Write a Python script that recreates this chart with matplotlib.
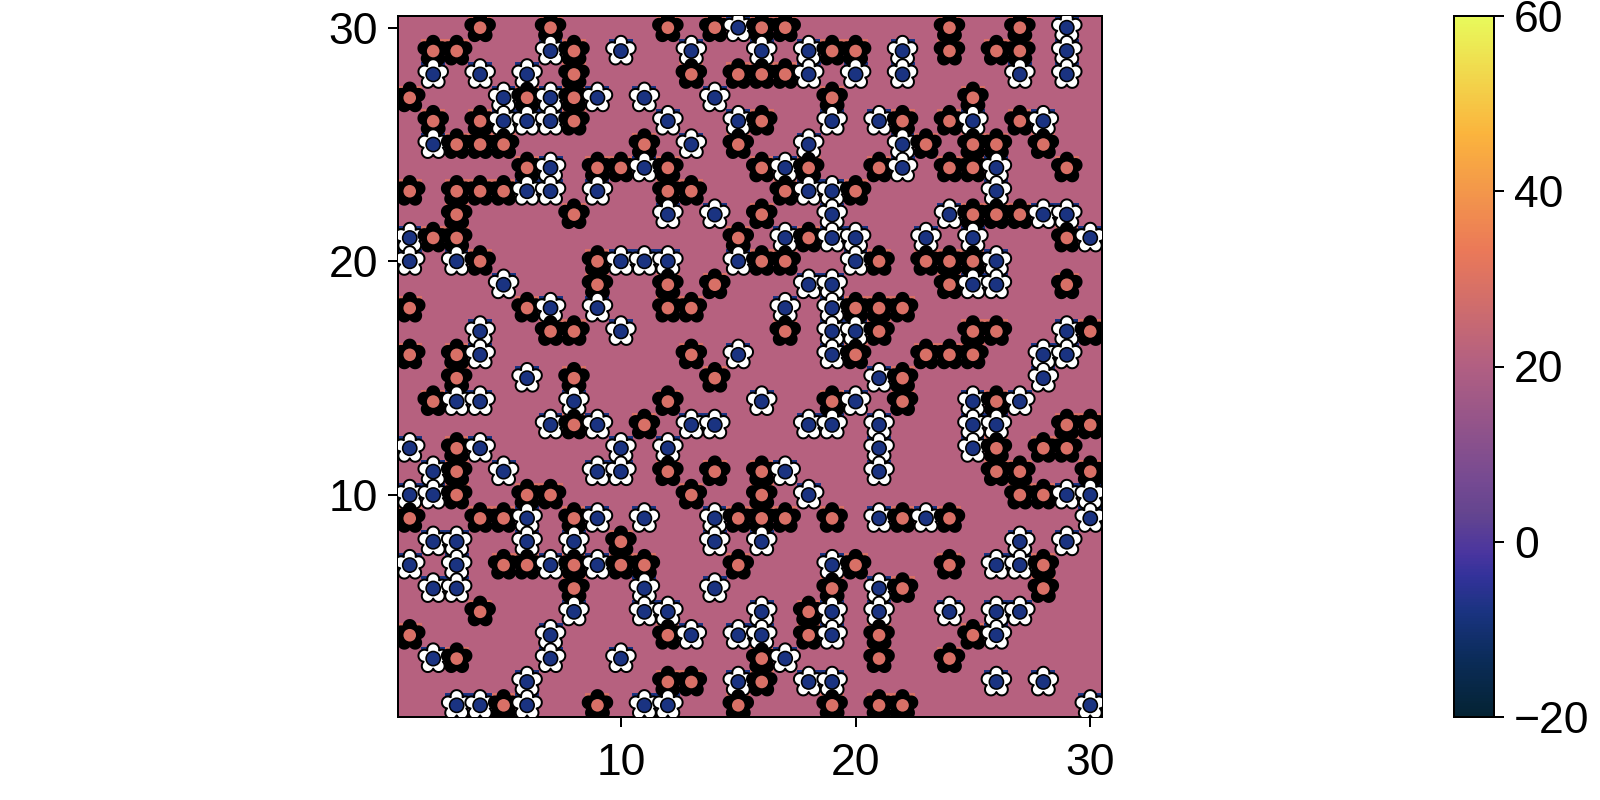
import numpy as np
import matplotlib
matplotlib.use("Agg")
import matplotlib.pyplot as plt
from matplotlib.colors import LinearSegmentedColormap
from matplotlib.path import Path

plt.rcParams['font.family'] = ['Liberation Sans', 'DejaVu Sans']

# --- data: occupied grid cells, one dict entry per row (y -> list of x) ---
white_rows = {
    30: [15, 29], 29: [7, 10, 13, 16, 18, 22, 29], 28: [2, 4, 6, 18, 20, 22, 27, 29],
    27: [5, 7, 9, 11, 14], 26: [5, 6, 7, 12, 15, 19, 21, 25, 28], 25: [2, 13, 18, 22],
    24: [7, 11, 17, 22, 26], 23: [6, 7, 9, 18, 19, 26], 22: [12, 14, 19, 24, 28, 29],
    21: [1, 17, 19, 20, 23, 25, 30], 20: [1, 3, 10, 11, 12, 15, 20, 26], 19: [5, 18, 19, 25, 26],
    18: [7, 9, 17, 19], 17: [4, 10, 19, 20, 29], 16: [4, 15, 19, 28, 29], 15: [6, 21, 28],
    14: [3, 4, 8, 16, 20, 25, 27], 13: [7, 9, 13, 14, 18, 19, 21, 25, 26], 12: [1, 4, 10, 12, 21, 25],
    11: [2, 5, 9, 10, 17, 21], 10: [1, 2, 18, 29, 30], 9: [6, 9, 11, 14, 21, 23, 30],
    8: [2, 3, 6, 8, 14, 16, 27, 29], 7: [1, 3, 7, 9, 19, 26, 27], 6: [2, 3, 11, 14, 21],
    5: [8, 11, 12, 16, 19, 21, 24, 26, 27], 4: [7, 13, 15, 16, 19, 26], 3: [2, 7, 10, 17],
    2: [6, 15, 18, 19, 26, 28], 1: [3, 4, 6, 11, 12, 30],
}
black_rows = {
    30: [4, 7, 12, 14, 16, 17, 24, 27], 29: [2, 3, 8, 19, 20, 24, 26, 27], 28: [8, 13, 15, 16, 17],
    27: [1, 6, 8, 19, 25], 26: [2, 4, 8, 16, 22, 24, 27], 25: [3, 4, 5, 11, 15, 23, 25, 26, 28],
    24: [6, 9, 10, 12, 16, 18, 21, 24, 25, 29], 23: [1, 3, 4, 5, 12, 13, 17, 20], 22: [3, 8, 16, 25, 26, 27],
    21: [2, 3, 15, 18, 29], 20: [4, 9, 16, 17, 21, 23, 24, 25], 19: [9, 12, 14, 24, 29],
    18: [1, 6, 12, 13, 20, 21, 22], 17: [7, 8, 17, 21, 25, 26, 30], 16: [1, 3, 13, 20, 23, 24, 25],
    15: [3, 8, 14, 22], 14: [2, 12, 19, 22, 26], 13: [8, 11, 29, 30], 12: [3, 26, 28, 29],
    11: [3, 12, 14, 16, 26, 27, 30], 10: [3, 6, 7, 13, 16, 27, 28], 9: [1, 4, 5, 8, 15, 16, 17, 19, 22, 24],
    8: [10], 7: [5, 6, 8, 10, 11, 15, 20, 24, 28], 6: [8, 19, 22, 28], 5: [4, 18],
    4: [1, 12, 18, 21, 25], 3: [3, 16, 21, 24], 2: [12, 13, 16], 1: [5, 9, 15, 19, 21, 22],
}
field_value = 21.0
white_value = -8.0
black_value = 29.0
x_ticks = [10, 20, 30]
y_ticks = [10, 20, 30]
cbar_ticks = [-20, 0, 20, 40, 60]
thermal_stops = [0.0, 0.083, 0.146, 0.2, 0.233, 0.29, 0.333, 0.5, 0.667, 0.833, 1.0]
thermal_colors = ['#042333', '#0b2c5a', '#19337f', '#33329a', '#4a359f', '#64458f',
                  '#744992', '#b15f82', '#eb7958', '#fbb43d', '#e8fa5b']

# --- assemble, drawing from the top row down and left to right ---
cells = []
for y in sorted(set(white_rows) | set(black_rows), reverse=True):
    row = [(x, y, 'w') for x in white_rows.get(y, [])] + [(x, y, 'k') for x in black_rows.get(y, [])]
    cells += sorted(row)
xs = np.array([c[0] for c in cells])
ys = np.array([c[1] for c in cells])
petal = ['white' if c[2] == 'w' else 'black' for c in cells]
vals = np.array([white_value if c[2] == 'w' else black_value for c in cells])

# --- marker shapes ---
def flower_path(d=9.2, p=6.0, n=5):
    th = np.linspace(0, 2 * np.pi, 721)
    phi = (th + np.pi / n) % (2 * np.pi / n) - np.pi / n
    r = d * np.cos(phi) + np.sqrt(np.maximum(p ** 2 - (d * np.sin(phi)) ** 2, 0))
    # th = 0 points up
    v = np.c_[r * np.sin(th), r * np.cos(th)]
    return Path(v, closed=True)

strip_path = Path([(-12, 9), (12, 9), (12, 12), (-12, 12), (-12, 9)], closed=True)

PX = 72 / 200  # points per pixel at dpi 200
cmap = LinearSegmentedColormap.from_list('thermal', list(zip(thermal_stops, thermal_colors)), N=256)
norm = plt.Normalize(-20, 60)

fig = plt.figure(figsize=(8, 4), dpi=200)
W, H = 1600, 800
ax = fig.add_axes([398 / W, 1 - 717 / H, (1102 - 398) / W, (717 - 16) / H])
cax = fig.add_axes([1454 / W, 1 - 717 / H, (1494 - 1454) / W, (717 - 16) / H])

edges = np.arange(0.5, 31, 1)
mesh = ax.pcolormesh(edges, edges, np.full((30, 30), field_value), cmap=cmap, norm=norm)

ax.scatter(xs, ys, c=vals, cmap=cmap, norm=norm, marker=strip_path,
           s=(24 * PX) ** 2, linewidths=0, zorder=2, clip_on=True)
ax.scatter(xs, ys, c=petal, marker=flower_path(), s=(2 * 15.2 * PX) ** 2,
           edgecolors='black', linewidths=2.0 * PX, zorder=3)
ax.scatter(xs, ys, c=vals, cmap=cmap, norm=norm, marker='o', s=(14.2 * PX) ** 2,
           edgecolors='black', linewidths=1.6 * PX, zorder=4)

ax.set_xlim(0.5, 30.5)
ax.set_ylim(0.5, 30.5)
ax.set_xticks(x_ticks)
ax.set_yticks(y_ticks)

cb = fig.colorbar(mesh, cax=cax)
cb.set_ticks(cbar_ticks)
cb.set_ticklabels(['\u221220', '0', '20', '40', '60'])
cb.outline.set_linewidth(2 * PX)
cb.minorticks_off()

for a in (ax, cax):
    a.tick_params(direction='out', length=10 * PX, width=2 * PX, labelsize=16, pad=10 * PX)
    for s in a.spines.values():
        s.set_linewidth(2 * PX)
ax.tick_params(axis='x', pad=16 * PX)

fig.savefig('out.png', dpi=200)
